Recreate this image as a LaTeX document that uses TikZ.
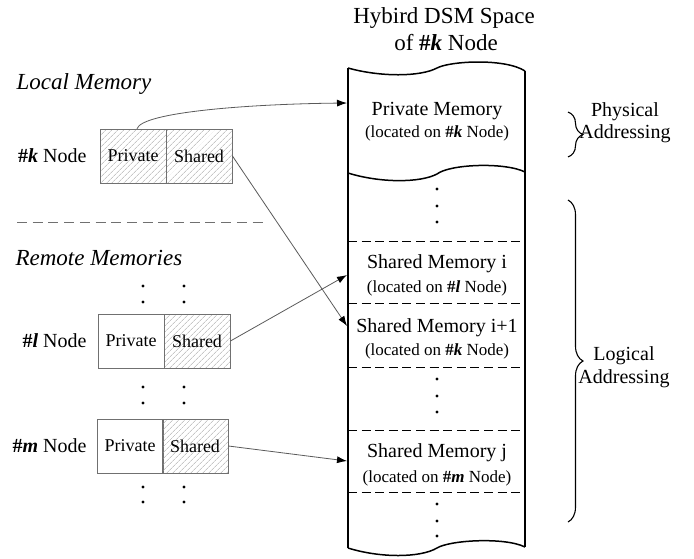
\documentclass[tikz,border=0pt]{standalone}
\usepackage{fontspec}
\setmainfont{Liberation Serif}
\usetikzlibrary{arrows.meta,patterns.meta,decorations.pathreplacing}
\definecolor{boxgray}{HTML}{707070}
\definecolor{hatchgray}{HTML}{A8A8A8}
\definecolor{conngray}{HTML}{5A5A5A}
\tikzset{
  cell/.style={draw=boxgray, line width=0.9pt, minimum width=66pt, minimum height=54pt, inner sep=0pt, font=\fontsize{18}{20}\selectfont},
  hatched/.style={pattern={Lines[angle=45,distance=4pt,line width=0.5pt]}, pattern color=hatchgray},
  conn/.style={draw=conngray, line width=0.8pt, -{Latex[length=10pt,width=7pt,color=black]}},
  coltext/.style={anchor=base, font=\fontsize{20}{22}\selectfont},
  loctext/.style={anchor=base, font=\fontsize{17}{19}\selectfont},
  nodelabel/.style={anchor=base east, font=\fontsize{20}{22}\selectfont},
  sectitle/.style={anchor=base west, font=\fontsize{23}{26}\selectfont\itshape},
  coledge/.style={line width=1.5pt, black},
  sepline/.style={line width=0.9pt, black, dash pattern=on 9pt off 4.6pt},
  dotmark/.style={fill=black},
  bracestyle/.style={decorate, decoration={brace, amplitude=15pt}, line width=1.1pt},
  bracelabel/.style={anchor=base, font=\fontsize{20}{22}\selectfont}
}
\newcommand{\hashk}{\textbf{\#\textit{k}}}
\newcommand{\hashl}{\textbf{\#\textit{l}}}
\newcommand{\hashm}{\textbf{\#\textit{m}}}
\begin{document}
\begin{tikzpicture}[x=1pt,y=-1pt]
\useasboundingbox (0,0) rectangle (694,558);

% title
\node[anchor=base, font=\fontsize{23}{26}\selectfont] (t1) at (444,23) {Hybird DSM Space};
\node[anchor=base, font=\fontsize{23}{26}\selectfont] (t2) at (446,50) {of \hashk{} Node};

% column
\draw[coledge] (348,68) .. controls (380,77) and (420,77) .. (437,68) .. controls (450,61) and (505,58) .. (525,71);
\draw[coledge] (348,173) .. controls (380,183) and (420,183) .. (437,174) .. controls (450,164) and (505,162) .. (525,172);
\draw[coledge] (348,548) .. controls (380,558) and (420,558) .. (437,548) .. controls (450,540) and (505,537) .. (525,547);
\draw[coledge] (348,68) -- (348,548);
\draw[coledge] (525,71) -- (525,547);
\foreach \yy in {241,303,367,430,492} \draw[sepline] (348,\yy) -- (525,\yy);
\foreach \yy in {189,206,222,379,396,412,504,521,536} \fill[dotmark] (437,\yy) circle (1.7);

\node[coltext] (pm) at (437,115) {Private Memory};
\node[loctext] (pml) at (437,137) {(located on \hashk{} Node)};
\node[coltext] (si) at (437,268) {Shared Memory i};
\node[loctext] (sil) at (437,292) {(located on \hashl{} Node)};
\node[coltext] (si1) at (437,332) {Shared Memory i+1};
\node[loctext] (si1l) at (437,355) {(located on \hashk{} Node)};
\node[coltext] (sj) at (437,457) {Shared Memory j};
\node[loctext] (sjl) at (437,482) {(located on \hashm{} Node)};

\coordinate (tPriv) at (347,103);
\coordinate (tShi) at (347,275);
\coordinate (tShi1) at (347,326);
\coordinate (tShj) at (347,461);

% left side
\node[sectitle] (lm) at (13,89) {Local Memory};
\node[sectitle] (rm) at (12,265) {Remote Memories};
\draw[boxgray, line width=0.9pt, dash pattern=on 10pt off 5.7pt] (17,222) -- (268,222);

\node[nodelabel] (kl) at (90,162) {\hashk{} Node};
\node[cell, hatched] (kp) at (133,156) {Private};
\node[cell, hatched] (ks) at (199,156) {Shared};

\node[nodelabel] (ll) at (90,347) {\hashl{} Node};
\node[cell] (lp) at (131,341) {Private};
\node[cell, hatched] (ls) at (197,341) {Shared};

\node[nodelabel] (ml) at (90,452) {\hashm{} Node};
\node[cell] (mp) at (130,446) {Private};
\node[cell, hatched] (ms) at (195,446) {Shared};

\foreach \yy in {286,302,387,403,487,502} {
  \fill[dotmark] (143,\yy) circle (1.7);
  \fill[dotmark] (184,\yy) circle (1.7);
}

% connectors
\draw[conn] ([xshift=4pt]kp.north) .. controls (142,112) and (250,104) .. (tPriv);
\draw[conn] (ks.east) -- (tShi1);
\draw[conn] (ls.east) -- (tShi);
\draw[conn] (ms.east) -- (tShj);

% braces
\draw[bracestyle] (568,112) -- (568,157);
\node[bracelabel] (ph1) at (625,116) {Physical};
\node[bracelabel] (ph2) at (625,138) {Addressing};
\draw[bracestyle] (568,200) -- (568,522);
\node[bracelabel] (lg1) at (624,360) {Logical};
\node[bracelabel] (lg2) at (624,383) {Addressing};
\end{tikzpicture}
\end{document}
